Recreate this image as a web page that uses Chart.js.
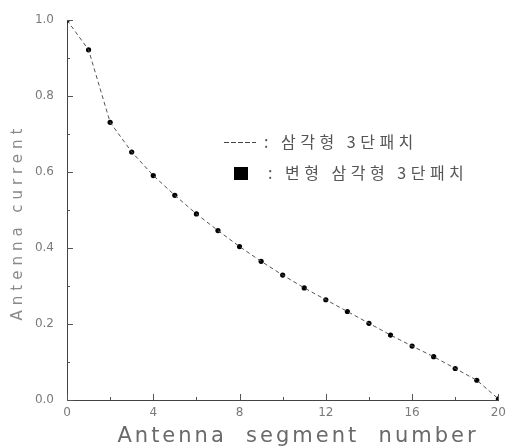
<!DOCTYPE html>
<html lang="ko">
<head>
<meta charset="UTF-8">
<title>Antenna current distribution</title>
<script src="https://cdn.jsdelivr.net/npm/chart.js"></script>
<style>
    * { margin: 0; padding: 0; box-sizing: border-box; }
    body { width: 512px; height: 447px; background: #fff; overflow: hidden; }
    .wrap { position: relative; width: 512px; height: 447px; }
</style>
</head>
<body>
<div class="wrap">
    <canvas id="chart" width="512" height="447"></canvas>
</div>
<script>
    // segment numbers along the antenna
    const segments = [0, 1, 2, 3, 4, 5, 6, 7, 8, 9, 10, 11, 12, 13, 14, 15, 16, 17, 18, 19, 20];
    // normalised current, triangular 3-stage patch (line)
    const triangleCurrent = [1.0, 0.922, 0.731, 0.653, 0.591, 0.539, 0.490, 0.446, 0.404, 0.365, 0.329,
                             0.295, 0.264, 0.233, 0.202, 0.171, 0.142, 0.114, 0.083, 0.052, 0.003];
    // normalised current, modified triangular 3-stage patch (markers)
    const modifiedCurrent = [1.0, 0.922, 0.731, 0.653, 0.591, 0.539, 0.490, 0.446, 0.404, 0.365, 0.329,
                             0.295, 0.264, 0.233, 0.202, 0.171, 0.142, 0.114, 0.083, 0.052, 0.003];
    const xMajorTicks = [0, 4, 8, 12, 16, 20];
    const xMinorTicks = [2, 6, 10, 14, 18];
    const yMajorTicks = [0, 0.2, 0.4, 0.6, 0.8, 1.0];
    const yMinorTicks = [0.1, 0.3, 0.5, 0.7, 0.9];
    const seriesLabels = [': 삼각형 3단패치', ': 변형 삼각형 3단패치'];
    const xTitle = 'Antenna  segment  number';
    const yTitle = 'Antenna current';

    const textGray = '#7a7a7a';

    // tick marks drawn on the inside of the axes
    const innerTicks = {
        id: 'innerTicks',
        afterDraw(chart) {
            const ctx = chart.ctx;
            const xs = chart.scales.x, ys = chart.scales.y;
            const left = chart.chartArea.left, bottom = chart.chartArea.bottom;
            ctx.save();
            ctx.strokeStyle = '#555';
            ctx.lineWidth = 1;
            ctx.beginPath();
            xMajorTicks.forEach(v => { let p = Math.round(xs.getPixelForValue(v)) + 0.5; ctx.moveTo(p, bottom); ctx.lineTo(p, bottom - 6); });
            xMinorTicks.forEach(v => { let p = Math.round(xs.getPixelForValue(v)) + 0.5; ctx.moveTo(p, bottom); ctx.lineTo(p, bottom - 3); });
            yMajorTicks.forEach(v => { let p = Math.round(ys.getPixelForValue(v)) + 0.5; ctx.moveTo(left, p); ctx.lineTo(left + 6, p); });
            yMinorTicks.forEach(v => { let p = Math.round(ys.getPixelForValue(v)) + 0.5; ctx.moveTo(left, p); ctx.lineTo(left + 3, p); });
            ctx.stroke();
            ctx.restore();
        }
    };

    // axis titles with the wide letter spacing of the original
    const spacedTitles = {
        id: 'spacedTitles',
        afterDraw(chart) {
            const ctx = chart.ctx;
            ctx.save();
            ctx.textAlign = 'center';
            ctx.textBaseline = 'alphabetic';
            ctx.letterSpacing = '3px';
            ctx.font = '21px "DejaVu Sans"';
            ctx.fillStyle = '#6a6a6a';
            ctx.fillText(xTitle, 298, 442);
            ctx.translate(22, 222);
            ctx.rotate(-Math.PI / 2);
            ctx.letterSpacing = '5px';
            ctx.font = '15px "DejaVu Sans"';
            ctx.fillStyle = '#8a8a8a';
            ctx.fillText(yTitle, 0, 0);
            ctx.restore();
        }
    };

    // legend in the middle of the plot
    const innerLegend = {
        id: 'innerLegend',
        afterDraw(chart) {
            const ctx = chart.ctx;
            ctx.save();
            ctx.font = '16px "Noto Sans CJK KR"';
            ctx.letterSpacing = '4.5px';
            ctx.textBaseline = 'middle';
            // line sample
            ctx.strokeStyle = '#444';
            ctx.lineWidth = 1;
            ctx.setLineDash([5, 2]);
            ctx.beginPath();
            ctx.moveTo(224, 142.5);
            ctx.lineTo(256, 142.5);
            ctx.stroke();
            ctx.setLineDash([]);
            ctx.fillStyle = '#555';
            ctx.fillText(seriesLabels[0], 264, 142);
            // marker sample
            ctx.fillStyle = '#000';
            ctx.fillRect(234, 167, 14, 13);
            ctx.fillStyle = '#555';
            ctx.fillText(seriesLabels[1], 268, 173);
            ctx.restore();
        }
    };

    new Chart(document.getElementById('chart'), {
        type: 'scatter',
        data: {
            datasets: [{
                label: seriesLabels[0],
                data: segments.map((s, i) => ({ x: s, y: triangleCurrent[i] })),
                showLine: true,
                borderColor: '#555',
                borderWidth: 1,
                borderDash: [4, 3],
                pointRadius: 0,
                fill: false
            }, {
                label: seriesLabels[1],
                data: segments.map((s, i) => ({ x: s, y: modifiedCurrent[i] })),
                showLine: false,
                pointStyle: 'circle',
                pointRadius: 2.6,
                backgroundColor: '#000',
                borderColor: '#000',
                borderWidth: 0
            }]
        },
        options: {
            responsive: false,
            animation: false,
            layout: { padding: { top: 14, right: 9, left: 0, bottom: 0 } },
            plugins: { legend: { display: false }, tooltip: { enabled: false } },
            scales: {
                x: {
                    type: 'linear',
                    min: 0,
                    max: 20,
                    afterBuildTicks: scale => { scale.ticks = xMajorTicks.map(v => ({ value: v })); },
                    afterFit: scale => { scale.height = 47; },
                    grid: { display: false, drawTicks: false },
                    border: { display: true, color: '#444', width: 1 },
                    ticks: { padding: 6, color: textGray, font: { family: 'DejaVu Sans', size: 12 }, maxRotation: 0 },
                    title: { display: false, text: xTitle }
                },
                y: {
                    min: 0,
                    max: 1,
                    afterBuildTicks: scale => { scale.ticks = yMajorTicks.map(v => ({ value: v })); },
                    afterFit: scale => { scale.width = 67; },
                    grid: { display: false, drawTicks: false },
                    border: { display: true, color: '#444', width: 1 },
                    ticks: {
                        padding: 13,
                        color: textGray,
                        font: { family: 'DejaVu Sans', size: 12 },
                        callback: v => v.toFixed(1)
                    },
                    title: { display: false, text: yTitle }
                }
            }
        },
        plugins: [innerTicks, spacedTitles, innerLegend]
    });
</script>
</body>
</html>
